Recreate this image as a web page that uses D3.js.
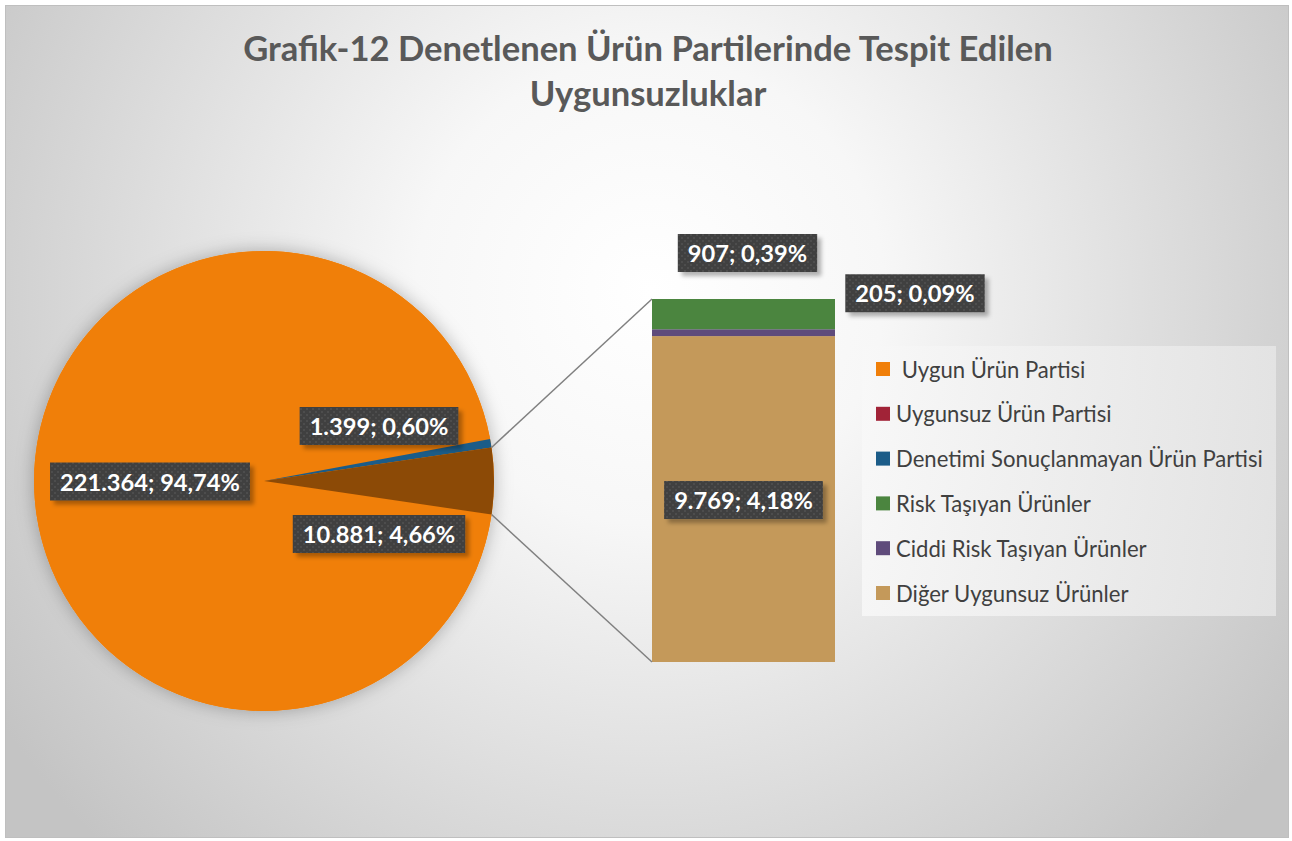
<!DOCTYPE html>
<html><head><meta charset="utf-8">
<script src="https://cdn.jsdelivr.net/npm/d3@7"></script>
<style>html,body{margin:0;padding:0;background:#fff}svg{display:block}</style>
</head><body>
<svg id="c" width="1292" height="841"></svg>
<script>
// ---- data ----
const pieCategories = ["Uygun Ürün Partisi", "Denetimi Sonuçlanmayan Ürün Partisi", "Diğer"];
const pieValues = [221364, 1399, 10881];
const pieLabels = ["221.364; 94,74%", "1.399; 0,60%", "10.881; 4,66%"];
const barCategories = ["Diğer Uygunsuz Ürünler", "Ciddi Risk Taşıyan Ürünler", "Risk Taşıyan Ürünler"];
const barValues = [9769, 205, 907];
const barLabels = ["9.769; 4,18%", "205; 0,09%", "907; 0,39%"];
const legendItems = [" Uygun Ürün Partisi", "Uygunsuz Ürün Partisi", "Denetimi Sonuçlanmayan Ürün Partisi", "Risk Taşıyan Ürünler", "Ciddi Risk Taşıyan Ürünler", "Diğer Uygunsuz Ürünler"];
const legendColors = ["#F07F09", "#A12337", "#1B5C88", "#4B853F", "#5F4B7B", "#C4995A"];
const pieColors = ["#F07F09", "#1B5C88", "#8C4A06"];
const barColors = ["#C4995A", "#5F4B7B", "#4B853F"];
const titleLines = ["Grafik-12 Denetlenen Ürün Partilerinde Tespit Edilen", "Uygunsuzluklar"];

const W = 1292, H = 841;
const svg = d3.select("#c");
const defs = svg.append("defs");

// background gradient
const rg = defs.append("radialGradient").attr("id", "bg").attr("gradientUnits", "userSpaceOnUse")
  .attr("cx", 650).attr("cy", 290).attr("r", 780);
rg.append("stop").attr("offset", 0).attr("stop-color", "#ffffff");
rg.append("stop").attr("offset", 0.3).attr("stop-color", "#f7f7f7");
rg.append("stop").attr("offset", 1).attr("stop-color", "#c4c4c4");

const lg = defs.append("linearGradient").attr("id", "lgbg").attr("x1", 0).attr("x2", 1).attr("y1", 0).attr("y2", 0);
lg.append("stop").attr("offset", 0).attr("stop-color", "#f8f8f8");
lg.append("stop").attr("offset", 1).attr("stop-color", "#e6e6e6");

// pie shadow
const ps = defs.append("filter").attr("id", "pieShadow").attr("x", "-20%").attr("y", "-20%").attr("width", "140%").attr("height", "140%");
ps.append("feDropShadow").attr("dx", 0).attr("dy", 0).attr("stdDeviation", 9).attr("flood-color", "#000").attr("flood-opacity", 0.28);

const ls = defs.append("filter").attr("id", "lblShadow").attr("x", "-20%").attr("y", "-30%").attr("width", "150%").attr("height", "170%");
ls.append("feDropShadow").attr("dx", 4).attr("dy", 4).attr("stdDeviation", 2).attr("flood-color", "#000").attr("flood-opacity", 0.3);

const pat = defs.append("pattern").attr("id", "dots").attr("patternUnits", "userSpaceOnUse").attr("width", 6).attr("height", 6);
pat.append("rect").attr("width", 6).attr("height", 6).attr("fill", "#404040");
pat.append("rect").attr("x", 0).attr("y", 0).attr("width", 2).attr("height", 2).attr("fill", "#4e4e4e");
pat.append("rect").attr("x", 3).attr("y", 3).attr("width", 2).attr("height", 2).attr("fill", "#4e4e4e");

svg.append("rect").attr("width", W).attr("height", H).attr("fill", "#ffffff");
svg.append("rect").attr("x", 5.5).attr("y", 5.5).attr("width", 1283).attr("height", 832)
  .attr("fill", "url(#bg)").attr("stroke", "#bfbfbf").attr("stroke-width", 1);

const FONT = "Lato, 'Open Sans', 'DejaVu Sans', sans-serif";

function fitFont(sel, target, base) {
  sel.attr("font-size", base);
  const w = sel.node().getComputedTextLength();
  const fs = base * target / w;
  sel.attr("font-size", fs);
  return fs;
}

// title
const t1 = svg.append("text").attr("x", 648).attr("y", 61).attr("text-anchor", "middle")
  .attr("font-family", FONT).attr("font-weight", "bold").attr("fill", "#595959").text(titleLines[0]);
const tfs = fitFont(t1, 810, 30);
svg.append("text").attr("x", 648).attr("y", 106).attr("text-anchor", "middle")
  .attr("font-family", FONT).attr("font-weight", "bold").attr("fill", "#595959")
  .attr("font-size", tfs).text(titleLines[1]);

// pie
const cx = 264, cy = 481, R = 230;
const total = d3.sum(pieValues);
const halfOther = Math.PI * pieValues[2] / total;
const pie = d3.pie().sort(null).value(d => d)
  .startAngle(Math.PI / 2 + halfOther).endAngle(Math.PI / 2 + halfOther + 2 * Math.PI);
const arcs = pie(pieValues);
const arc = d3.arc().innerRadius(0).outerRadius(R);
const gp = svg.append("g").attr("transform", `translate(${cx},${cy})`);
gp.append("circle").attr("r", R).attr("fill", "#F07F09").attr("filter", "url(#pieShadow)");
gp.selectAll("path").data(arcs).join("path")
  .attr("d", arc).attr("fill", (d, i) => pieColors[i]);

// bar
const bx0 = 652, bx1 = 835, byTop = 299, byBot = 662;
const otherTotal = d3.sum(barValues);
const y = d3.scaleLinear().domain([0, otherTotal]).range([byBot, byTop]);
const x = d3.scaleBand().domain(["bar"]).range([bx0, bx1]).padding(0);
let cum = 0;
const stacks = barValues.map((v, i) => { const s = { i, y0: cum, y1: cum + v }; cum += v; return s; });
svg.append("g").selectAll("rect").data(stacks).join("rect")
  .attr("x", x("bar")).attr("width", x.bandwidth())
  .attr("y", d => y(d.y1)).attr("height", d => y(d.y0) - y(d.y1))
  .attr("fill", d => barColors[d.i]);

// connector lines
const oa = arcs[2];
const pTop = [cx + R * Math.sin(oa.endAngle), cy - R * Math.cos(oa.endAngle)];
const pBot = [cx + R * Math.sin(oa.startAngle), cy - R * Math.cos(oa.startAngle)];
// endAngle of other slice is the lower edge in screen coordinates (clockwise)
const topP = pTop[1] < pBot[1] ? pTop : pBot;
const botP = pTop[1] < pBot[1] ? pBot : pTop;
svg.append("line").attr("x1", topP[0]).attr("y1", topP[1]).attr("x2", bx0).attr("y2", y(otherTotal))
  .attr("stroke", "#808080").attr("stroke-width", 1.5);
svg.append("line").attr("x1", botP[0]).attr("y1", botP[1]).attr("x2", bx0).attr("y2", y(0))
  .attr("stroke", "#808080").attr("stroke-width", 1.5);

// data labels
const LFS_BASE = 20;
const probe = svg.append("text").attr("font-family", FONT).attr("font-weight", "bold").text(pieLabels[0]);
const lfs = fitFont(probe, 180, LFS_BASE);
probe.remove();

function label(text, mx, my) {
  const g = svg.append("g");
  const r = g.append("rect");
  const t = g.append("text").attr("x", mx).attr("y", my).attr("text-anchor", "middle")
    .attr("dominant-baseline", "central")
    .attr("font-family", FONT).attr("font-weight", "bold").attr("font-size", lfs)
    .attr("fill", "#ffffff").text(text);
  const w = t.node().getComputedTextLength();
  const bw = w + 20, bh = 38;
  r.attr("x", mx - bw / 2).attr("y", my - bh / 2).attr("width", bw).attr("height", bh)
    .attr("fill", "url(#dots)").attr("filter", "url(#lblShadow)");
}
label(pieLabels[0], cx - 114, cy + 0.5);
label(pieLabels[1], cx + 115, cy - 55);
label(pieLabels[2], cx + 115, cy + 53);
const xc = x("bar") + x.bandwidth() / 2;
label(barLabels[0], xc, (y(stacks[0].y0) + y(stacks[0].y1)) / 2 + 1);
label(barLabels[1], bx1 + 80, y(stacks[1].y1) - 36);
label(barLabels[2], xc + 4, y(stacks[2].y1) - 46);

// legend
const lgx = 862, lgy = 346, lgw = 414, lgh = 270;
svg.append("rect").attr("x", lgx).attr("y", lgy).attr("width", lgw).attr("height", lgh)
  .attr("fill", "url(#lgbg)").attr("opacity", 0.85);
const probe2 = svg.append("text").attr("font-family", FONT).text(legendItems[2]);
const legfs = fitFont(probe2, 367, 20);
probe2.remove();
const ly = d3.scalePoint().domain(legendItems).range([369, 593]);
const lgg = svg.append("g").selectAll("g").data(legendItems).join("g")
  .attr("transform", d => `translate(0,${ly(d)})`);
lgg.append("rect").attr("x", 876).attr("y", -7).attr("width", 14).attr("height", 14)
  .attr("fill", (d, i) => legendColors[i]);
lgg.append("text").attr("x", 896).attr("y", 0).attr("dominant-baseline", "central")
  .attr("font-family", FONT).attr("font-size", legfs).attr("fill", "#404040")
  .attr("xml:space", "preserve").style("white-space", "pre").text(d => d);
</script>
</body></html>
